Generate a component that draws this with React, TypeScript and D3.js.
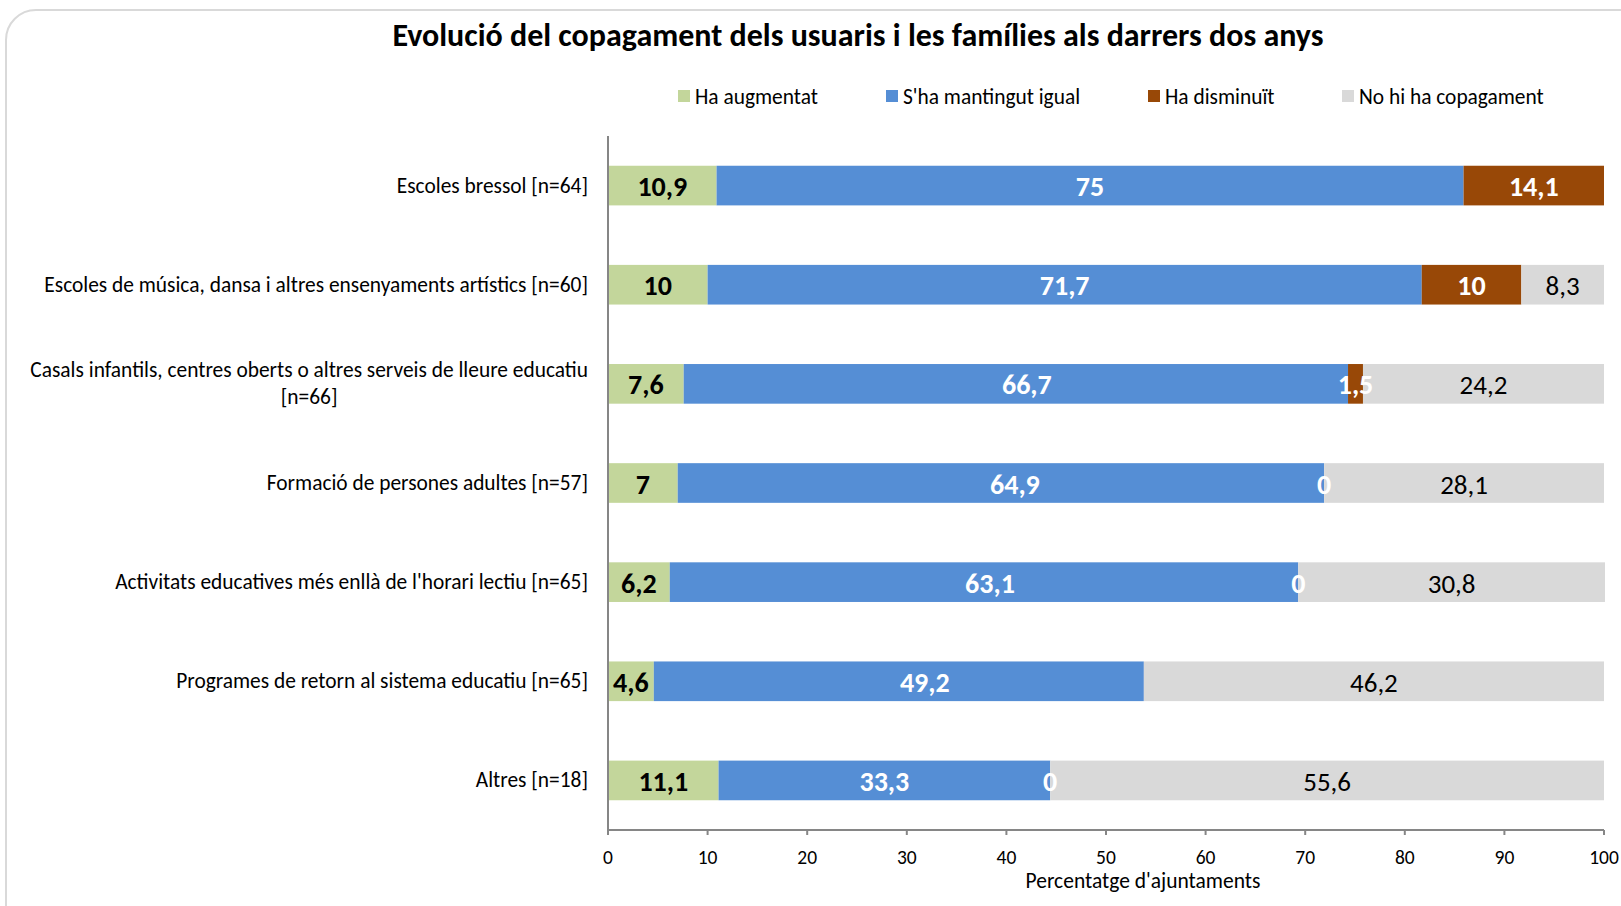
import React from "react";
import * as d3 from "d3";

const categories = [
  "Escoles bressol [n=64]",
  "Escoles de música, dansa i altres ensenyaments artístics [n=60]",
  "Casals infantils, centres oberts o altres serveis de lleure educatiu|[n=66]",
  "Formació de persones adultes [n=57]",
  "Activitats educatives més enllà de l'horari lectiu [n=65]",
  "Programes de retorn al sistema educatiu [n=65]",
  "Altres [n=18]",
];
const seriesNames = ["Ha augmentat", "S'ha mantingut igual", "Ha disminuït", "No hi ha copagament"];
const augmentat: (number | null)[] = [10.9, 10, 7.6, 7, 6.2, 4.6, 11.1];
const mantingut: (number | null)[] = [75, 71.7, 66.7, 64.9, 63.1, 49.2, 33.3];
const disminuit: (number | null)[] = [14.1, 10, 1.5, 0, 0, null, 0];
const noCopagament: (number | null)[] = [null, 8.3, 24.2, 28.1, 30.8, 46.2, 55.6];
const xTicks = [0, 10, 20, 30, 40, 50, 60, 70, 80, 90, 100];

const colors = ["#C3D69B", "#558ED5", "#984807", "#D9D9D9"];
const labelColors = ["#000000", "#FFFFFF", "#FFFFFF", "#000000"];
const labelWeights = ["bold", "bold", "bold", "normal"];
const labelSizes = [28, 28, 28, 27];
const FONT = "Carlito, Calibri, Lato, sans-serif";
const CAT_SIZE = 21.4;
// manual label nudges (px) for the "S'ha mantingut igual" labels, as placed in the original
const blueLabelNudge = [0, 0, 11, 14, 6, 26, 0];

export default function App() {
  const W = 1621, H = 906;
  const x = d3.scaleLinear().domain([0, 100]).range([608, 1604]);
  const y = d3.scaleBand<number>().domain(d3.range(categories.length)).range([136, 830]).paddingInner(0.6).paddingOuter(0.3);
  const series = [augmentat, mantingut, disminuit, noCopagament];
  const fmt = (v: number) => String(v).replace(".", ",");

  const segs: any[] = [];
  categories.forEach((_, i) => {
    let acc = 0;
    series.forEach((s, k) => {
      const v = s[i];
      if (v === null) return;
      segs.push({ i, k, v, x0: acc, x1: acc + v });
      acc += v;
    });
  });

  const legendX = [678, 886, 1148, 1342];

  return (
    <svg width={W} height={H} style={{ position: "absolute", left: 0, top: 0, fontFamily: FONT }}>
      <rect x={0} y={0} width={W} height={H} fill="#fff" />
      <rect x={6} y={10} width={W + 40} height={H + 40} rx={30} ry={30} fill="#fff" stroke="#D9D9D9" strokeWidth={2} />
      <text x={858} y={35} textAnchor="middle" dominantBaseline="central" fontSize={32} fontWeight="bold" fill="#000">
        Evolució del copagament dels usuaris i les famílies als darrers dos anys
      </text>
      {seriesNames.map((n, k) => (
        <g key={n}>
          <rect x={legendX[k]} y={90} width={12} height={12} fill={colors[k]} />
          <text x={legendX[k] + 17} y={97} dominantBaseline="central" fontSize={21.4} fill="#000">{n}</text>
        </g>
      ))}
      {segs.map((s, j) => (
        <rect key={j} x={x(s.x0)} y={y(s.i)!} width={x(s.x1) - x(s.x0)} height={y.bandwidth()} fill={colors[s.k]} />
      ))}
      {segs.map((s, j) => (
        <text key={"t" + j} x={x((s.x0 + s.x1) / 2) + (s.k === 1 ? blueLabelNudge[s.i] : 0)} y={y(s.i)! + y.bandwidth() / 2 + 1} textAnchor="middle" dominantBaseline="central"
          fontSize={labelSizes[s.k]} fontWeight={labelWeights[s.k]} fill={labelColors[s.k]}>{fmt(s.v)}</text>
      ))}
      {categories.map((c, i) => {
        const lines = c.split("|");
        const cy = y(i)! + y.bandwidth() / 2;
        if (lines.length === 1) {
          return (
            <text key={c} x={588} y={cy} fontSize={CAT_SIZE} fill="#000" textAnchor="end" dominantBaseline="central">{lines[0]}</text>
          );
        }
        return (
          <g key={c}>
            <text x={588} y={cy - 13.5} textAnchor="end" dominantBaseline="central" fontSize={CAT_SIZE} fill="#000">{lines[0]}</text>
            <MultiCenter text={lines[1]} line0={lines[0]} cy={cy} />
          </g>
        );
      })}
      <line x1={x(0)} x2={x(0)} y1={136} y2={830} stroke="#868686" strokeWidth={2} />
      <line x1={x(0)} x2={x(100)} y1={830} y2={830} stroke="#868686" strokeWidth={2} />
      {xTicks.map((t) => (
        <g key={t}>
          <line x1={x(t)} x2={x(t)} y1={830} y2={835} stroke="#868686" strokeWidth={2} />
          <text x={x(t)} y={857} textAnchor="middle" dominantBaseline="central" fontSize={19.5} fill="#000">{t}</text>
        </g>
      ))}
      <text x={1143} y={881} textAnchor="middle" dominantBaseline="central" fontSize={21.5} fill="#000">Percentatge d'ajuntaments</text>
    </svg>
  );
}

function MultiCenter({ text, line0, cy }: { text: string; line0: string; cy: number }) {
  const ref = React.useRef<SVGTextElement>(null);
  const [cx, setCx] = React.useState(309);
  React.useEffect(() => {
    const el = ref.current;
    if (!el) return;
    const tmp = document.createElementNS("http://www.w3.org/2000/svg", "text");
    tmp.setAttribute("font-size", String(CAT_SIZE));
    tmp.textContent = line0;
    el.parentNode!.appendChild(tmp);
    const w = tmp.getComputedTextLength();
    tmp.remove();
    setCx(588 - w / 2);
  }, [line0]);
  return (
    <text ref={ref} x={cx} y={cy + 13.5} textAnchor="middle" dominantBaseline="central" fontSize={CAT_SIZE} fill="#000">{text}</text>
  );
}
